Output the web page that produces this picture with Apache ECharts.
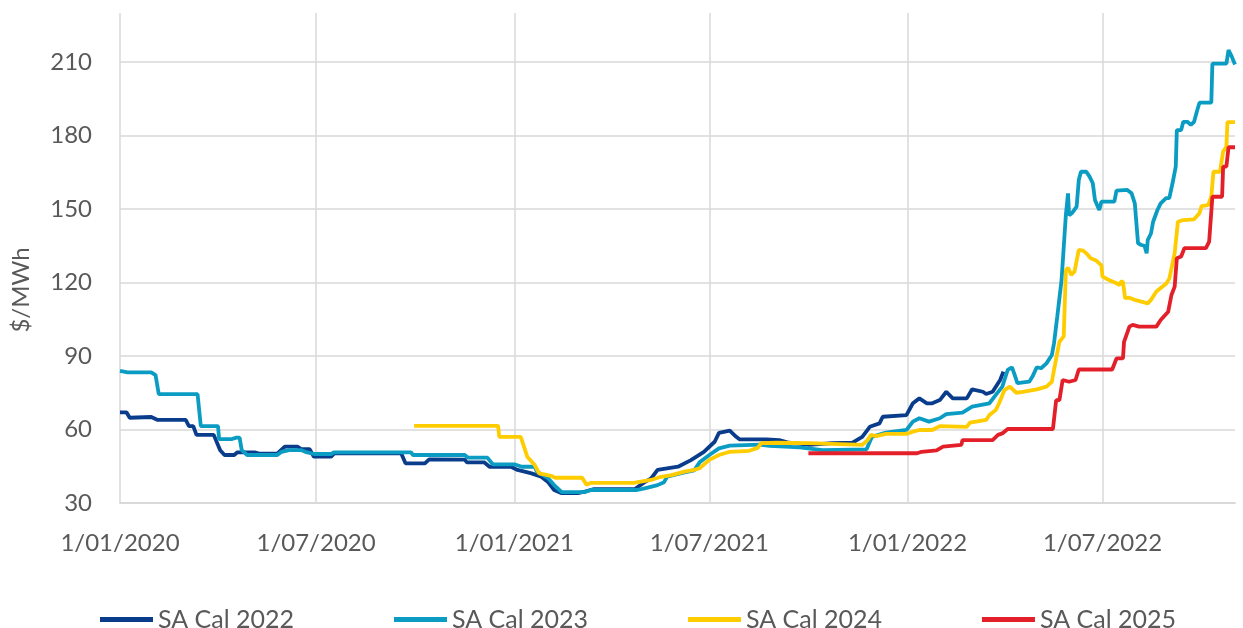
<!DOCTYPE html>
<html>
<head>
<meta charset="utf-8">
<script src="https://cdn.jsdelivr.net/npm/echarts@6/dist/echarts.min.js"></script>
<style>
html,body{margin:0;padding:0;background:#fff;}
#chart{width:1243px;height:628px;}
</style>
</head>
<body>
<div id="chart"></div>
<script>
// ---- Data ----
const seriesNames = ['SA Cal 2022', 'SA Cal 2023', 'SA Cal 2024', 'SA Cal 2025'];
const xTickDates = ['2020-01-01', '2020-07-01', '2021-01-01', '2021-07-01', '2022-01-01', '2022-07-01'];
const yTickValues = [30, 60, 90, 120, 150, 180, 210];

const dates2022 = ['2020-01-01','2020-01-07','2020-01-10','2020-01-30','2020-02-05','2020-03-02','2020-03-05','2020-03-09','2020-03-12','2020-03-28','2020-04-03','2020-04-07','2020-04-16','2020-04-19','2020-05-05','2020-05-10','2020-05-26','2020-06-02','2020-06-14','2020-06-17','2020-06-25','2020-06-29','2020-07-15','2020-07-18','2020-09-18','2020-09-22','2020-10-10','2020-10-14','2020-11-16','2020-11-18','2020-12-04','2020-12-09','2020-12-29','2021-01-04','2021-01-17','2021-01-26','2021-02-01','2021-02-07','2021-02-14','2021-03-01','2021-03-07','2021-03-16','2021-04-23','2021-05-02','2021-05-08','2021-05-14','2021-06-02','2021-06-14','2021-06-26','2021-07-06','2021-07-10','2021-07-20','2021-07-26','2021-07-29','2021-08-23','2021-09-04','2021-09-13','2021-10-02','2021-10-23','2021-11-11','2021-11-20','2021-11-27','2021-12-06','2021-12-09','2021-12-31','2022-01-06','2022-01-12','2022-01-19','2022-01-24','2022-01-31','2022-02-06','2022-02-12','2022-02-25','2022-03-02','2022-03-12','2022-03-15','2022-03-21','2022-03-28','2022-03-31'];
const values2022 = [67,67,64.8,65.1,63.9,63.9,61.4,61.4,57.8,57.8,51.5,49.6,49.6,50.7,50.7,50.1,50.1,53,53,52,52,48.9,48.9,50.3,50.3,46.2,46.2,47.8,47.7,46.6,46.6,44.8,44.8,43.5,42.1,40.7,38.7,35.3,34,34,34.6,35.7,35.7,38.5,40,43.5,44.8,47.5,50.9,55,58.6,59.5,57,56,56,55.7,54.6,53.7,54.4,54.6,57,61.1,62.5,65.2,65.9,70.7,72.7,70.7,70.7,72,75.4,72.7,72.7,76.4,75.4,74.5,75.4,80.2,83.6];

const dates2023 = ['2020-01-01','2020-01-08','2020-01-30','2020-02-03','2020-02-06','2020-03-13','2020-03-16','2020-04-01','2020-04-02','2020-04-14','2020-04-18','2020-04-21','2020-04-23','2020-04-28','2020-05-26','2020-05-30','2020-06-06','2020-06-17','2020-06-21','2020-06-29','2020-07-15','2020-07-18','2020-09-27','2020-09-29','2020-11-16','2020-11-19','2020-12-07','2020-12-12','2021-01-01','2021-01-08','2021-01-20','2021-01-22','2021-02-01','2021-02-07','2021-02-14','2021-03-07','2021-03-13','2021-04-25','2021-05-02','2021-05-14','2021-05-20','2021-05-23','2021-06-08','2021-06-17','2021-06-22','2021-07-01','2021-07-10','2021-07-20','2021-08-17','2021-08-26','2021-09-23','2021-10-14','2021-11-24','2021-11-29','2021-12-12','2021-12-31','2022-01-06','2022-01-12','2022-01-21','2022-01-31','2022-02-06','2022-02-21','2022-03-02','2022-03-18','2022-03-24','2022-03-30','2022-04-04','2022-04-08','2022-04-10','2022-04-13','2022-04-24','2022-04-27','2022-05-01','2022-05-05','2022-05-10','2022-05-15','2022-05-17','2022-05-20','2022-05-24','2022-05-28','2022-05-30','2022-05-31','2022-06-03','2022-06-07','2022-06-09','2022-06-11','2022-06-16','2022-06-19','2022-06-22','2022-06-24','2022-06-28','2022-06-30','2022-07-12','2022-07-14','2022-07-24','2022-07-28','2022-07-31','2022-08-03','2022-08-06','2022-08-09','2022-08-11','2022-08-12','2022-08-15','2022-08-17','2022-08-21','2022-08-24','2022-08-29','2022-09-01','2022-09-04','2022-09-07','2022-09-08','2022-09-12','2022-09-14','2022-09-18','2022-09-21','2022-09-24','2022-09-27','2022-09-29','2022-10-10','2022-10-11','2022-10-24','2022-10-26','2022-10-29','2022-11-01'];
const values2023 = [83.9,83.3,83.3,82.2,74.4,74.4,61.4,61.4,56.1,56.1,56.7,56.7,51.6,49.6,49.6,50.9,51.6,51.6,50.9,50,50,50.7,50.7,49.6,49.6,48.5,48.5,45.8,45.8,44.8,44.8,42.8,40.3,37.3,34.4,34.4,35.3,35.3,36,37.3,38.5,40.8,42.5,43.3,46.6,49.6,52.3,53.4,53.8,53.3,52.7,51.6,51.9,57,58.7,59.8,63.2,64.6,63.2,64.6,66.3,66.9,69.3,70.7,74.1,77.5,84.3,85.4,82.9,78.9,79.5,81.6,85.4,85,87,90.4,95.2,106,121,147.6,156.4,147.4,148.5,151,161.8,165.2,165.2,163.2,160.5,153.7,149.6,153,153,157.5,157.8,156.4,152.3,136,135.3,135,131.9,137.3,140,144.8,149.6,152.3,154.4,154.4,160.5,167.3,182.2,182.2,185.6,185.6,184.3,185.6,190.4,193.4,193.4,209.3,209.3,214.9,212.2,209];

const dates2024 = ['2020-09-30','2020-12-17','2020-12-18','2021-01-07','2021-01-10','2021-01-13','2021-01-20','2021-01-24','2021-02-04','2021-02-08','2021-03-05','2021-03-09','2021-03-13','2021-04-22','2021-04-27','2021-05-08','2021-05-17','2021-05-27','2021-06-08','2021-06-17','2021-06-22','2021-07-01','2021-07-10','2021-07-20','2021-08-07','2021-08-15','2021-08-18','2021-09-01','2021-10-02','2021-11-20','2021-11-25','2021-11-28','2021-12-03','2021-12-12','2021-12-31','2022-01-06','2022-01-12','2022-01-24','2022-01-31','2022-02-25','2022-02-28','2022-03-15','2022-03-18','2022-03-24','2022-03-27','2022-04-01','2022-04-06','2022-04-12','2022-04-18','2022-05-01','2022-05-10','2022-05-15','2022-05-17','2022-05-22','2022-05-26','2022-05-28','2022-05-30','2022-06-02','2022-06-05','2022-06-09','2022-06-13','2022-06-16','2022-06-20','2022-06-25','2022-06-30','2022-07-01','2022-07-07','2022-07-14','2022-07-17','2022-07-18','2022-07-20','2022-07-22','2022-07-26','2022-07-31','2022-08-12','2022-08-15','2022-08-20','2022-08-29','2022-09-01','2022-09-06','2022-09-09','2022-09-14','2022-09-24','2022-09-29','2022-10-01','2022-10-07','2022-10-10','2022-10-12','2022-10-18','2022-10-21','2022-10-24','2022-10-25','2022-11-01'];
const values2024 = [61.5,61.5,57,57,53,48.9,45.5,42.1,41.1,40.3,40.3,37.5,38.2,38.2,38.6,39.4,40.7,41.4,42.8,43.5,44.2,47.6,49.6,50.9,51.3,52.5,54.4,54.6,54.4,53.7,55.7,57.8,57.3,58.2,58.2,59.1,59.8,59.8,61.4,61.1,62.8,63.9,65.9,68,70.7,76.1,77.5,75,75.4,76.4,77.5,79.5,84.3,95.8,98,125,126,123.1,124.4,133.3,133,131.9,129.9,129,127,122.4,121,119.7,119,120.3,120.3,113.6,113.8,112.9,111.5,112.9,116.3,119.5,121.5,132,144.8,145.5,145.8,148.3,151.2,151.6,155,165.2,165.2,173.4,175.4,185.5,185.5];

const dates2025 = ['2021-10-01','2022-01-10','2022-01-14','2022-01-28','2022-02-03','2022-02-04','2022-02-20','2022-02-21','2022-03-21','2022-03-26','2022-03-30','2022-04-04','2022-05-16','2022-05-19','2022-05-22','2022-05-25','2022-05-31','2022-06-06','2022-06-09','2022-07-10','2022-07-14','2022-07-20','2022-07-21','2022-07-26','2022-07-29','2022-08-04','2022-08-20','2022-08-24','2022-08-31','2022-09-03','2022-09-06','2022-09-08','2022-09-12','2022-09-15','2022-10-05','2022-10-08','2022-10-11','2022-10-20','2022-10-21','2022-10-24','2022-10-26','2022-11-01'];
const values2025 = [50.3,50.3,50.9,51.5,53,53.7,53.7,55.7,55.7,57.8,58.4,60.2,60.2,72,72,80.2,79.5,80.2,84.5,84.5,89,89,95.8,102,102.7,102,102,104.7,108.1,114.9,118.3,129.9,130.6,134,134,136.7,155,155,167.3,167.3,175.2,175.2];

const seriesColors = ['#0a3c8c', '#0a9cc3', '#ffcc00', '#e3202a'];

// ---- Build chart ----
const allDates = [dates2022, dates2023, dates2024, dates2025];
const allValues = [values2022, values2023, values2024, values2025];
const toTime = s => +echarts.time.parse(s);
const pad2 = n => (n < 10 ? '0' : '') + n;
const fmtDate = v => { const d = new Date(v); return d.getDate() + '/' + pad2(d.getMonth() + 1) + '/' + d.getFullYear(); };
const xTickTimes = xTickDates.map(toTime);

const chart = echarts.init(document.getElementById('chart'), null, {renderer: 'canvas'});
const FONT = 'Lato';
chart.setOption({
  animation: false,
  backgroundColor: '#ffffff',
  grid: {left: 120, right: 8, top: 13, bottom: 125, containLabel: false},
  legend: {
    data: seriesNames,
    left: 95,
    top: 602,
    icon: 'rect',
    itemWidth: 53,
    itemHeight: 5,
    itemGap: 100,
    textStyle: {fontFamily: FONT, fontSize: 25, color: '#595959'}
  },
  xAxis: {
    type: 'value',
    min: toTime('2020-01-01'),
    max: toTime('2022-11-01'),
    axisLine: {show: true, lineStyle: {color: '#d9d9d9', width: 2}},
    axisTick: {show: false, customValues: xTickTimes},
    axisLabel: {
      customValues: xTickTimes,
      formatter: v => fmtDate(v),
      fontFamily: FONT, fontSize: 24, color: '#595959', margin: 28
    },
    splitLine: {show: true, lineStyle: {color: '#d9d9d9', width: 1.5}}
  },
  yAxis: {
    type: 'value',
    min: 30,
    max: 230,
    interval: 30,
    name: '$/MWh',
    nameLocation: 'middle',
    nameGap: 87,
    nameTextStyle: {fontFamily: FONT, fontSize: 24, color: '#595959', padding: [0, 64, 0, 0]},
    axisLine: {show: false},
    axisTick: {show: false, customValues: yTickValues},
    axisLabel: {customValues: yTickValues, fontFamily: FONT, fontSize: 24, color: '#595959', margin: 28},
    splitLine: {show: true, lineStyle: {color: '#d9d9d9', width: 1.5}}
  },
  series: seriesNames.map((name, i) => ({
    name: name,
    type: 'line',
    symbol: 'none',
    showSymbol: false,
    color: seriesColors[i],
    itemStyle: {color: seriesColors[i]},
    lineStyle: {width: 3.8, color: seriesColors[i]},
    data: allDates[i].map((d, j) => [toTime(d), allValues[i][j]])
  }))
});
</script>
</body>
</html>
